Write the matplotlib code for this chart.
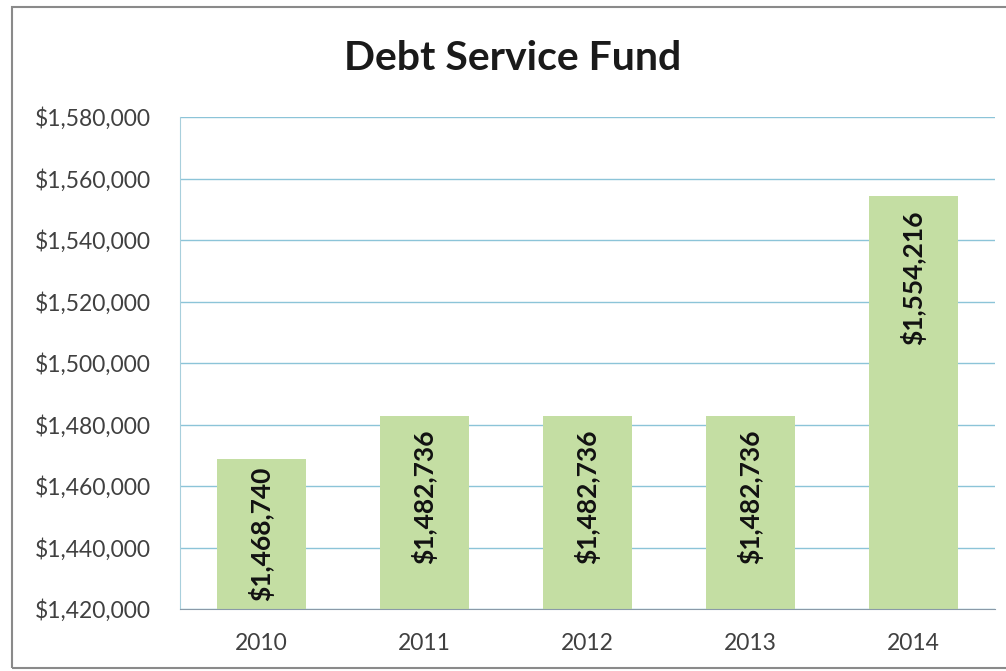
import matplotlib.pyplot as plt
from matplotlib.ticker import FuncFormatter
from matplotlib.patches import Rectangle
from matplotlib.transforms import offset_copy

# data
years = ["2010", "2011", "2012", "2013", "2014"]
balances = [1468740, 1482736, 1482736, 1482736, 1554216]
y_ticks = [1420000, 1440000, 1460000, 1480000, 1500000, 1520000, 1540000, 1560000, 1580000]

plt.rcParams["font.family"] = ["Lato", "DejaVu Sans"]

fig = plt.figure(figsize=(10.06, 6.71), dpi=100)
ax = fig.add_axes([180 / 1006, 1 - 609 / 671, 815 / 1006, 492 / 671])

x = range(len(years))
base = y_ticks[0]
ax.bar(x, [b - base for b in balances], bottom=base, width=0.55,
       color="#c4dea3", zorder=2)

# labels inside the end of each bar; short bars get them centred
below = offset_copy(ax.transData, fig=fig, y=-10, units="points")
for i, b in enumerate(balances):
    if b - base < 55000:
        ax.text(i, (b + base) / 2, f"${b:,}", rotation=90, ha="center", va="center",
                fontsize=19, fontweight="bold", color="#111111", zorder=3)
    else:
        ax.text(i, b, f"${b:,}", rotation=90, ha="center", va="top", transform=below,
                fontsize=19, fontweight="bold", color="#111111", zorder=3)

ax.set_xlim(-0.5, len(years) - 0.5)
ax.set_ylim(y_ticks[0], y_ticks[-1])
ax.set_yticks(y_ticks)
ax.yaxis.set_major_formatter(FuncFormatter(lambda v, p: f"${v:,.0f}"))
ax.set_xticks(list(x))
ax.set_xticklabels(years)
ax.tick_params(axis="both", length=0, labelsize=16.5, labelcolor="#404040")
ax.tick_params(axis="y", pad=21)
ax.tick_params(axis="x", pad=17)
ax.grid(axis="y", color="#8cc4d8", linewidth=1.0, zorder=1)

for side in ["top", "right"]:
    ax.spines[side].set_visible(False)
ax.spines["left"].set_color("#a8cfdc")
ax.spines["bottom"].set_color("#8a9aa8")

fig.text(513 / 1006, 1 - 58 / 671, "Debt Service Fund", ha="center", va="center",
         fontsize=29.5, fontweight="bold", color="#1a1a1a")

# outer chart border
fig.patches.append(Rectangle((12 / 1006, 0.005), 1.0, 0.985, transform=fig.transFigure,
                             fill=False, edgecolor="#8a8a8a", linewidth=1.5))

plt.savefig("out.png", dpi=100)
